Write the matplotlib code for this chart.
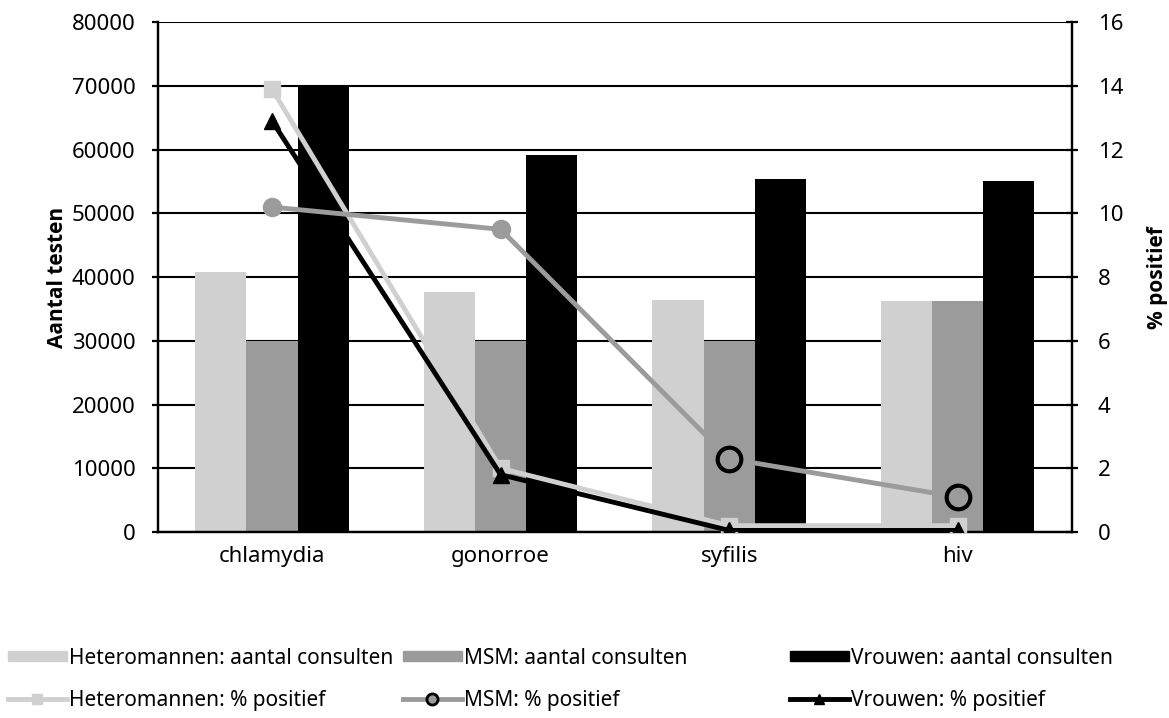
import numpy as np
import matplotlib

matplotlib.use("Agg")
import matplotlib.pyplot as plt
from matplotlib.lines import Line2D
from matplotlib.patches import Patch

plt.rcParams["font.family"] = ["Noto Sans", "DejaVu Sans"]

categories = ["chlamydia", "gonorroe", "syfilis", "hiv"]

# aantal consulten (left axis)
hetero_tests = [40800, 37600, 36400, 36300]
msm_tests = [30000, 30000, 30000, 36200]
vrouwen_tests = [70100, 59100, 55400, 55100]

# % positief (right axis)
hetero_pos = [13.9, 2.0, 0.2, 0.2]
msm_pos = [10.2, 9.5, 2.3, 1.1]
vrouwen_pos = [12.9, 1.8, 0.05, 0.05]

C_LIGHT = "#d0d0d0"
C_MID = "#9a9b9a"
C_DARK = "#000000"

fig = plt.figure(figsize=(11.69, 7.18), dpi=100)
ax = fig.add_axes([0.135, 0.259, 0.782, 0.710])
ax2 = ax.twinx()

x = np.arange(len(categories))
w = 0.224
ax.bar(x - w, hetero_tests, w, color=C_LIGHT, zorder=2)
ax.bar(x, msm_tests, w, color=C_MID, zorder=2)
ax.bar(x + w, vrouwen_tests, w, color=C_DARK, zorder=2)

ax.set_ylim(0, 80000)
ax.set_yticks(np.arange(0, 80001, 10000))
ax.set_xlim(-0.5, 3.5)
ax.set_xticks(x)
ax.set_xticklabels(categories)
ax.yaxis.grid(True, color="black", lw=1.5, zorder=0)
ax.set_axisbelow(True)

label_font = dict(fontsize=15, fontweight="bold", family=["Open Sans", "DejaVu Sans"])
ax.set_ylabel("Aantal testen", labelpad=3, **label_font)

ax2.set_ylim(0, 16)
ax2.set_yticks(np.arange(0, 17, 2))
ax2.set_ylabel("% positief", labelpad=17, **label_font)

ax2.plot(x, hetero_pos, color=C_LIGHT, lw=3.5, marker="s", ms=12, zorder=3)
ax2.plot(x, vrouwen_pos, color=C_DARK, lw=3.5, marker="^", ms=11, zorder=4)
ax2.plot(x, msm_pos, color=C_MID, lw=3.5, marker="o", ms=13, zorder=5)
# later points drawn as open circles with black edge
ax2.plot(x[2:], msm_pos[2:], ls="none", marker="o", ms=17, mfc=C_MID,
         mec="black", mew=3, zorder=6)

for a in (ax, ax2):
    a.spines["top"].set_visible(False)
    for s in ("left", "right", "bottom"):
        a.spines[s].set_linewidth(1.6)
    a.tick_params(axis="both", labelsize=16, width=1.6, colors="black")
ax.tick_params(axis="y", length=4, direction="out", pad=12)
ax2.tick_params(axis="y", length=9, direction="inout", pad=14)
ax.tick_params(axis="x", length=0, pad=10)
ax2.tick_params(axis="x", length=0)

legend_cols = [
    (0.007, [Patch(color=C_LIGHT, label="Heteromannen: aantal consulten"),
             Line2D([], [], color=C_LIGHT, lw=3.5, marker="s", ms=7,
                    label="Heteromannen: % positief")]),
    (0.345, [Patch(color=C_MID, label="MSM: aantal consulten"),
             Line2D([], [], color=C_MID, lw=3.5, marker="o", ms=8, mfc=C_MID,
                    mec="black", mew=2, label="MSM: % positief")]),
    (0.676, [Patch(color=C_DARK, label="Vrouwen: aantal consulten"),
             Line2D([], [], color=C_DARK, lw=3.5, marker="^", ms=7,
                    label="Vrouwen: % positief")]),
]
for xpos, hs in legend_cols:
    fig.legend(handles=hs, loc="center left", bbox_to_anchor=(xpos, 0.054),
               frameon=False, fontsize=15, handlelength=2.8, handleheight=0.35,
               handletextpad=0.1, labelspacing=1.0, borderpad=0, borderaxespad=0)

fig.savefig("out.png", dpi=100)
